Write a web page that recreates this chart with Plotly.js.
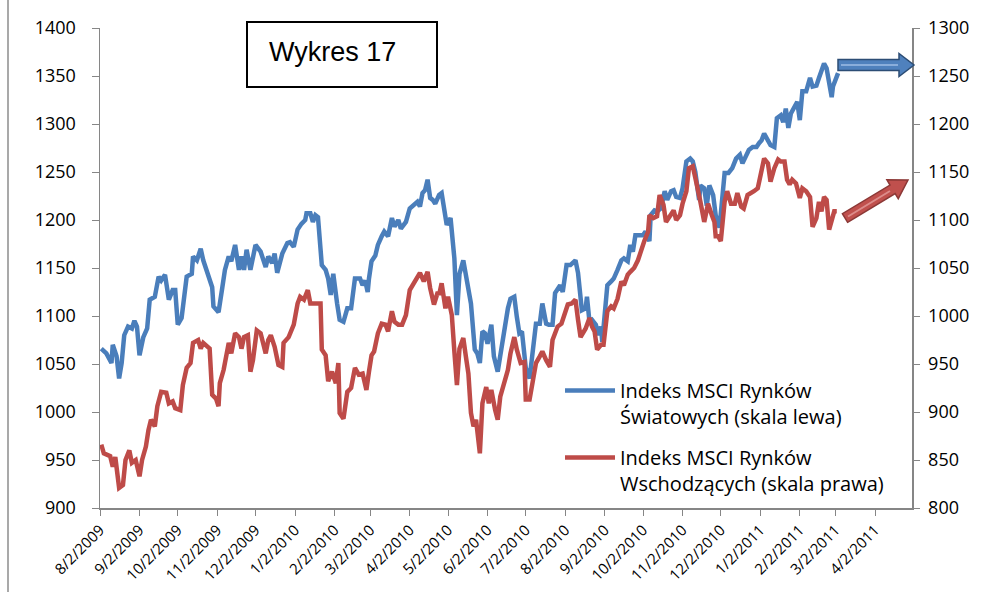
<!DOCTYPE html>
<html>
<head>
<meta charset="utf-8">
<script src="https://cdn.plot.ly/plotly-3.0.1.min.js"></script>
<style>html,body{margin:0;padding:0;background:#fff;}#chart{width:982px;height:592px;}</style>
</head>
<body>
<div id="chart"></div>
<script>
// ---- DATA ----
const worldDates = ["2009-08-03","2009-08-07","2009-08-11","2009-08-12","2009-08-15","2009-08-17","2009-08-19","2009-08-21","2009-08-24","2009-08-27","2009-08-29","2009-08-31","2009-09-02","2009-09-05","2009-09-08","2009-09-10","2009-09-14","2009-09-17","2009-09-19","2009-09-22","2009-09-25","2009-09-28","2009-09-30","2009-10-02","2009-10-05","2009-10-07","2009-10-09","2009-10-13","2009-10-14","2009-10-17","2009-10-20","2009-10-22","2009-10-26","2009-10-29","2009-10-30","2009-11-02","2009-11-03","2009-11-06","2009-11-08","2009-11-11","2009-11-13","2009-11-16","2009-11-19","2009-11-21","2009-11-23","2009-11-25","2009-11-28","2009-12-02","2009-12-06","2009-12-10","2009-12-12","2009-12-15","2009-12-17","2009-12-19","2009-12-23","2009-12-27","2009-12-29","2010-01-01","2010-01-04","2010-01-07","2010-01-10","2010-01-11","2010-01-14","2010-01-16","2010-01-18","2010-01-20","2010-01-23","2010-01-26","2010-01-28","2010-01-30","2010-02-01","2010-02-04","2010-02-06","2010-02-09","2010-02-12","2010-02-15","2010-02-18","2010-02-22","2010-02-24","2010-02-26","2010-02-28","2010-03-01","2010-03-03","2010-03-06","2010-03-08","2010-03-11","2010-03-13","2010-03-16","2010-03-19","2010-03-21","2010-03-24","2010-03-26","2010-03-30","2010-04-02","2010-04-05","2010-04-08","2010-04-10","2010-04-12","2010-04-14","2010-04-16","2010-04-18","2010-04-20","2010-04-22","2010-04-25","2010-04-27","2010-04-30","2010-05-01","2010-05-04","2010-05-07","2010-05-09","2010-05-11","2010-05-14","2010-05-16","2010-05-18","2010-05-20","2010-05-23","2010-05-25","2010-05-27","2010-05-29","2010-05-31","2010-06-02","2010-06-05","2010-06-07","2010-06-10","2010-06-12","2010-06-15","2010-06-18","2010-06-20","2010-06-23","2010-06-25","2010-06-27","2010-06-29","2010-07-02","2010-07-05","2010-07-08","2010-07-10","2010-07-13","2010-07-15","2010-07-18","2010-07-20","2010-07-23","2010-07-25","2010-07-29","2010-07-31","2010-08-03","2010-08-06","2010-08-10","2010-08-12","2010-08-15","2010-08-18","2010-08-19","2010-08-21","2010-08-23","2010-08-26","2010-08-28","2010-08-30","2010-08-31","2010-09-02","2010-09-04","2010-09-07","2010-09-09","2010-09-12","2010-09-15","2010-09-17","2010-09-20","2010-09-22","2010-09-24","2010-09-26","2010-09-29","2010-10-02","2010-10-04","2010-10-07","2010-10-08","2010-10-11","2010-10-13","2010-10-16","2010-10-19","2010-10-21","2010-10-24","2010-10-26","2010-10-28","2010-10-31","2010-11-02","2010-11-05","2010-11-08","2010-11-10","2010-11-12","2010-11-15","2010-11-16","2010-11-19","2010-11-21","2010-11-23","2010-11-26","2010-11-28","2010-12-01","2010-12-03","2010-12-05","2010-12-08","2010-12-11","2010-12-14","2010-12-17","2010-12-19","2010-12-22","2010-12-24","2010-12-27","2010-12-30","2011-01-01","2011-01-03","2011-01-05","2011-01-08","2011-01-10","2011-01-13","2011-01-15","2011-01-18","2011-01-20","2011-01-22","2011-01-24","2011-01-26","2011-01-29","2011-01-31","2011-02-02","2011-02-04","2011-02-07","2011-02-10","2011-02-12","2011-02-15","2011-02-17","2011-02-19","2011-02-21","2011-02-23","2011-02-25","2011-02-27","2011-02-28","2011-03-02","2011-03-04"];
const worldValues = [1066,1061,1051,1070,1058,1035,1051,1080,1089,1087,1095,1089,1059,1078,1087,1117,1120,1141,1137,1143,1117,1127,1127,1091,1098,1124,1141,1144,1162,1158,1170,1158,1141,1130,1110,1106,1104,1130,1148,1162,1157,1174,1148,1162,1148,1169,1148,1174,1167,1151,1162,1155,1165,1145,1165,1176,1177,1172,1190,1196,1200,1207,1207,1198,1205,1203,1153,1148,1139,1122,1144,1113,1096,1094,1108,1108,1139,1139,1132,1137,1125,1139,1157,1163,1174,1183,1188,1183,1202,1193,1200,1191,1198,1212,1216,1219,1214,1228,1231,1242,1223,1221,1217,1226,1228,1205,1195,1202,1160,1101,1144,1158,1144,1124,1113,1065,1061,1051,1084,1082,1071,1091,1058,1042,1059,1089,1108,1118,1120,1099,1082,1084,1046,1035,1068,1092,1092,1113,1092,1091,1091,1124,1132,1125,1153,1153,1158,1145,1106,1108,1120,1094,1096,1091,1080,1089,1073,1101,1132,1136,1139,1148,1158,1160,1157,1174,1167,1184,1184,1184,1188,1178,1205,1210,1209,1212,1230,1221,1230,1231,1224,1223,1233,1261,1264,1261,1250,1221,1236,1233,1215,1236,1226,1205,1192,1223,1249,1249,1254,1264,1268,1259,1266,1273,1276,1276,1280,1283,1290,1283,1278,1276,1306,1309,1302,1316,1296,1311,1318,1323,1304,1334,1334,1348,1339,1340,1348,1356,1363,1358,1339,1328,1339,1348,1353];

const emDates = ["2009-08-03","2009-08-05","2009-08-10","2009-08-12","2009-08-14","2009-08-17","2009-08-20","2009-08-22","2009-08-25","2009-08-27","2009-08-30","2009-09-02","2009-09-04","2009-09-07","2009-09-09","2009-09-11","2009-09-14","2009-09-16","2009-09-19","2009-09-23","2009-09-25","2009-09-28","2009-09-30","2009-10-04","2009-10-06","2009-10-09","2009-10-12","2009-10-14","2009-10-18","2009-10-20","2009-10-22","2009-10-27","2009-10-29","2009-11-01","2009-11-03","2009-11-04","2009-11-07","2009-11-11","2009-11-13","2009-11-16","2009-11-19","2009-11-21","2009-11-23","2009-11-26","2009-11-28","2009-11-30","2009-12-03","2009-12-06","2009-12-10","2009-12-12","2009-12-14","2009-12-17","2009-12-20","2009-12-23","2009-12-24","2009-12-28","2010-01-01","2010-01-04","2010-01-06","2010-01-09","2010-01-12","2010-01-14","2010-01-18","2010-01-22","2010-01-23","2010-01-26","2010-01-28","2010-01-31","2010-02-03","2010-02-05","2010-02-06","2010-02-09","2010-02-12","2010-02-15","2010-02-18","2010-02-21","2010-02-24","2010-02-27","2010-03-01","2010-03-03","2010-03-05","2010-03-08","2010-03-11","2010-03-14","2010-03-16","2010-03-19","2010-03-21","2010-03-24","2010-03-27","2010-03-30","2010-04-02","2010-04-05","2010-04-08","2010-04-10","2010-04-13","2010-04-16","2010-04-18","2010-04-21","2010-04-24","2010-04-25","2010-04-27","2010-04-30","2010-05-02","2010-05-05","2010-05-07","2010-05-09","2010-05-11","2010-05-14","2010-05-16","2010-05-18","2010-05-20","2010-05-22","2010-05-24","2010-05-27","2010-05-29","2010-06-01","2010-06-03","2010-06-05","2010-06-08","2010-06-10","2010-06-12","2010-06-15","2010-06-18","2010-06-20","2010-06-23","2010-06-25","2010-06-28","2010-07-01","2010-07-02","2010-07-05","2010-07-08","2010-07-10","2010-07-13","2010-07-15","2010-07-18","2010-07-21","2010-07-23","2010-07-27","2010-07-30","2010-08-01","2010-08-04","2010-08-07","2010-08-10","2010-08-12","2010-08-14","2010-08-18","2010-08-21","2010-08-23","2010-08-25","2010-08-27","2010-08-30","2010-09-01","2010-09-04","2010-09-07","2010-09-09","2010-09-12","2010-09-15","2010-09-17","2010-09-20","2010-09-22","2010-09-25","2010-09-28","2010-09-30","2010-10-03","2010-10-06","2010-10-07","2010-10-10","2010-10-13","2010-10-15","2010-10-18","2010-10-20","2010-10-23","2010-10-26","2010-10-28","2010-10-31","2010-11-02","2010-11-05","2010-11-07","2010-11-10","2010-11-12","2010-11-15","2010-11-16","2010-11-19","2010-11-22","2010-11-25","2010-11-27","2010-11-28","2010-11-30","2010-12-02","2010-12-05","2010-12-07","2010-12-10","2010-12-13","2010-12-15","2010-12-18","2010-12-20","2010-12-23","2010-12-26","2010-12-28","2010-12-31","2011-01-03","2011-01-05","2011-01-08","2011-01-10","2011-01-13","2011-01-16","2011-01-18","2011-01-21","2011-01-23","2011-01-25","2011-01-27","2011-01-30","2011-02-02","2011-02-04","2011-02-07","2011-02-10","2011-02-12","2011-02-15","2011-02-17","2011-02-19","2011-02-21","2011-02-23","2011-02-25","2011-02-27","2011-03-01","2011-03-03"];
const emValues = [866,857,854,843,853,821,824,850,860,847,850,833,850,864,881,892,885,906,921,920,909,911,904,902,928,946,951,972,975,966,972,966,918,914,906,930,944,972,961,982,978,966,978,980,942,954,985,982,961,975,980,968,949,947,972,978,991,1013,1020,1017,1027,1013,1013,1013,965,959,932,942,930,951,899,893,921,925,946,939,940,923,942,959,963,982,992,991,984,1005,994,991,991,1001,1027,1034,1039,1045,1036,1046,1029,1012,1025,1022,1034,1008,1020,1001,963,928,966,977,958,940,899,885,892,857,909,926,909,923,902,892,916,930,944,961,978,965,951,952,913,913,933,951,958,963,954,947,975,989,992,1001,1012,1013,1017,996,978,987,998,989,984,965,970,970,1005,1010,1008,1018,1036,1032,1043,1046,1050,1058,1067,1078,1088,1105,1102,1104,1126,1116,1098,1104,1110,1100,1105,1117,1130,1154,1156,1144,1121,1119,1098,1117,1105,1098,1083,1083,1078,1119,1130,1117,1117,1128,1114,1112,1126,1128,1130,1133,1150,1164,1159,1140,1154,1163,1161,1161,1142,1137,1142,1138,1123,1133,1130,1124,1093,1102,1119,1109,1124,1121,1090,1100,1109,1109];

const seriesNames = ["Indeks MSCI Rynków<br>Światowych (skala lewa)", "Indeks MSCI Rynków<br>Wschodzących (skala prawa)"];
const chartLabel = "Wykres 17";
const xRange = ["2009-08-02", "2011-05-01"];
const leftRange = [900, 1400];
const rightRange = [800, 1300];

// ---- helpers for decorative shapes (pixel -> paper) ----
const L = 100, R = 70, T = 28, B = 84, W = 982, H = 592;
const pw = W - L - R, ph = H - T - B;
const px = x => (x - L) / pw;
const py = y => (H - B - y) / ph;
function arrowPath(tx, ty, hx, hy, shaftHalf, headHalf, headLen) {
  const dx = hx - tx, dy = hy - ty, len = Math.hypot(dx, dy);
  const ux = dx / len, uy = dy / len, nx = -uy, ny = ux;
  const bx = hx - ux * headLen, by = hy - uy * headLen;
  const pts = [
    [tx + nx * shaftHalf, ty + ny * shaftHalf],
    [bx + nx * shaftHalf, by + ny * shaftHalf],
    [bx + nx * headHalf, by + ny * headHalf],
    [hx, hy],
    [bx - nx * headHalf, by - ny * headHalf],
    [bx - nx * shaftHalf, by - ny * shaftHalf],
    [tx - nx * shaftHalf, ty - ny * shaftHalf]
  ];
  return 'M' + pts.map(p => px(p[0]).toFixed(5) + ',' + py(p[1]).toFixed(5)).join(' L') + ' Z';
}

const traces = [
  {x: worldDates, y: worldValues, name: seriesNames[0], type: 'scatter', mode: 'lines',
   line: {color: '#4A7EBB', width: 4.5}, yaxis: 'y', legendgroup: 'a'},
  {x: emDates, y: emValues, name: seriesNames[1], type: 'scatter', mode: 'lines',
   line: {color: '#BE4B48', width: 4.5}, yaxis: 'y2', legendgroup: 'b'}
];

const axisCol = '#868686';
const layout = {
  width: W, height: H,
  margin: {l: L, r: R, t: T, b: B},
  paper_bgcolor: '#fff', plot_bgcolor: '#fff',
  font: {family: 'Open Sans, sans-serif', color: '#000'},
  showlegend: true,
  legend: {x: px(560), y: py(371), xanchor: 'left', yanchor: 'top', bgcolor: 'rgba(0,0,0,0)',
           font: {size: 20, family: 'Open Sans'}, valign: 'top', traceorder: 'grouped', tracegroupgap: 12,
           itemwidth: 50},
  xaxis: {type: 'date', range: xRange, tick0: '2009-08-02', dtick: 'M1', tickformat: '%-m/%-d/%Y',
          tickangle: -45, showgrid: false, zeroline: false, showline: true, linecolor: axisCol, linewidth: 1.5,
          ticks: 'outside', ticklen: 6, tickcolor: axisCol, tickfont: {size: 15}},
  yaxis: {range: leftRange, dtick: 50, showgrid: false, zeroline: false, showline: true, linecolor: axisCol,
          linewidth: 1.5, ticks: 'outside', ticklen: 7, tickcolor: axisCol, tickfont: {size: 18},
          ticklabelstandoff: 12},
  yaxis2: {range: rightRange, dtick: 50, overlaying: 'y', side: 'right', showgrid: false, zeroline: false,
           showline: true, linecolor: axisCol, linewidth: 1.5, ticks: 'outside', ticklen: 6, tickcolor: axisCol,
           tickfont: {size: 18}, ticklabelstandoff: 5},
  shapes: [
    {type: 'line', xref: 'paper', yref: 'paper', x0: px(8), x1: px(8), y0: py(0), y1: py(592),
     line: {color: '#8c8c8c', width: 1.5}},
    {type: 'rect', xref: 'paper', yref: 'paper', x0: px(247), x1: px(437), y0: py(87), y1: py(22),
     line: {color: '#000', width: 2}, fillcolor: '#fff'},
    {type: 'path', xref: 'paper', yref: 'paper', path: arrowPath(838, 65, 914, 65, 5.5, 11.5, 15),
     fillcolor: '#4F81BD', line: {color: '#2C4D75', width: 1.5}},
    {type: 'line', xref: 'paper', yref: 'paper', x0: px(841), x1: px(898), y0: py(65), y1: py(65),
     line: {color: '#8AAEDB', width: 2}},
    {type: 'path', xref: 'paper', yref: 'paper', path: arrowPath(845, 218, 908, 180, 5, 11, 18),
     fillcolor: '#C0504D', line: {color: '#8C3836', width: 1.5}},
    {type: 'line', xref: 'paper', yref: 'paper', x0: px(848), x1: px(890), y0: py(216.5), y1: py(191),
     line: {color: '#DC8C8A', width: 2}}
  ],
  annotations: [
    {xref: 'paper', yref: 'paper', x: px(332), y: py(52), xanchor: 'center', yanchor: 'middle', showarrow: false,
     text: chartLabel, font: {family: 'Liberation Sans, Arial, sans-serif', size: 27, color: '#000'}}
  ]
};

Plotly.newPlot('chart', traces, layout, {displayModeBar: false, staticPlot: true});
</script>
</body>
</html>
